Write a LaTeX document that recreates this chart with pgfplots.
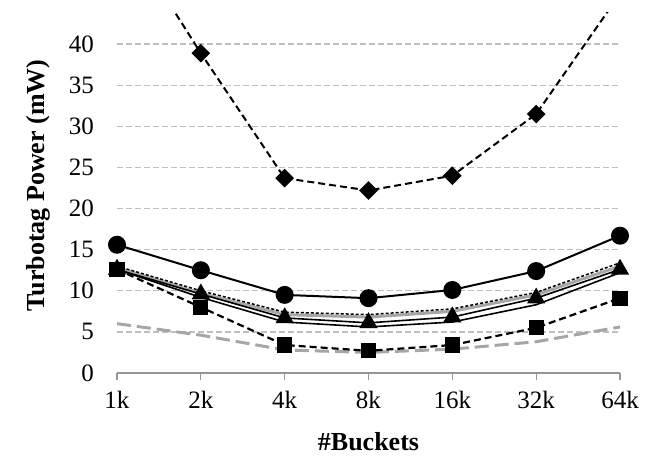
\documentclass[border=0pt]{standalone}
\usepackage{fontspec}
\setmainfont{Liberation Serif}
\usepackage{pgfplots}
\pgfplotsset{compat=1.18}
\definecolor{gridgray}{RGB}{191,191,191}
\definecolor{axgray}{RGB}{150,150,150}
\definecolor{sgray}{RGB}{166,166,166}
\begin{document}
\begin{tikzpicture}
\useasboundingbox (-117pt,-90pt) rectangle (540pt,373pt);
\begin{axis}[
  at={(0pt,0pt)}, anchor=south west,
  scale only axis, width=503pt, height=360.5pt,
  xmin=0, xmax=6, ymin=0, ymax=43.85,
  xtick={0,...,6},
  xticklabels={1k,2k,4k,8k,16k,32k,64k},
  ytick={0,5,...,40},
  axis x line*=bottom, axis y line*=left,
  x axis line style={draw=axgray, line width=1.3pt, -},
  y axis line style={draw=none},
  xtick style={draw=axgray, line width=1.3pt},
  ytick style={draw=none},
  xtick align=outside, major tick length=7pt,
  ymajorgrids, grid style={draw=gridgray, line width=1.3pt, dash pattern=on 6pt off 3pt},
  /pgf/number format/assume math mode=true,
  tick label style={font=\fontsize{25}{28}\selectfont},
  xticklabel style={anchor=base, yshift=-29pt},
  yticklabel style={anchor=east, inner sep=0pt, xshift=-23pt},
  xlabel={\textbf{\#Buckets}},
  ylabel={\textbf{Turbotag Power (mW)}},
  label style={font=\fontsize{26}{30}\selectfont},
  xlabel style={at={(axis description cs:0.5,0)}, anchor=base, yshift=-78pt},
  ylabel style={at={(axis description cs:0,0.52)}, anchor=base, xshift=0pt, yshift=72pt},
  clip=true,
]
% gray long dashed
\addplot[sgray, line width=3pt, dash pattern=on 14pt off 6pt] coordinates {(0,6.0) (1,4.6) (2,2.8) (3,2.5) (4,2.9) (5,3.8) (6,5.6)};
% lower black solid
\addplot[black, line width=1.6pt] coordinates {(0,12.6) (1,9.2) (2,6.2) (3,5.6) (4,6.2) (5,8.3) (6,12.2)};
% gray solid
\addplot[sgray, line width=3pt] coordinates {(0,12.8) (1,9.7) (2,7.1) (3,6.8) (4,7.5) (5,9.5) (6,13.0)};
% dotted black
\addplot[black, line width=1.5pt, dash pattern=on 3pt off 2pt] coordinates {(0,13.0) (1,10.0) (2,7.4) (3,7.1) (4,7.8) (5,9.8) (6,13.4)};
% triangle
\addplot[black, line width=1.6pt, mark=triangle*, mark size=9pt, mark options={solid}] coordinates {(0,12.6) (1,9.6) (2,6.7) (3,6.1) (4,6.8) (5,9.1) (6,12.6)};
% square dashed
\addplot[black, line width=2.2pt, dash pattern=on 7pt off 4pt, mark=square*, mark size=6.5pt, mark options={solid}] coordinates {(0,12.6) (1,8.0) (2,3.4) (3,2.7) (4,3.4) (5,5.5) (6,9.1)};
% circle
\addplot[black, line width=2pt, mark=*, mark size=8pt, mark options={solid}] coordinates {(0,15.6) (1,12.5) (2,9.5) (3,9.1) (4,10.1) (5,12.4) (6,16.7)};
% diamond dashed
\addplot[black, line width=2pt, dash pattern=on 7pt off 4pt, mark=square*, mark size=5.6pt, mark options={solid, rotate=45}] coordinates {(0,55) (1,38.9) (2,23.7) (3,22.2) (4,24.0) (5,31.5) (6,46.1)};
\end{axis}
\end{tikzpicture}
\end{document}
